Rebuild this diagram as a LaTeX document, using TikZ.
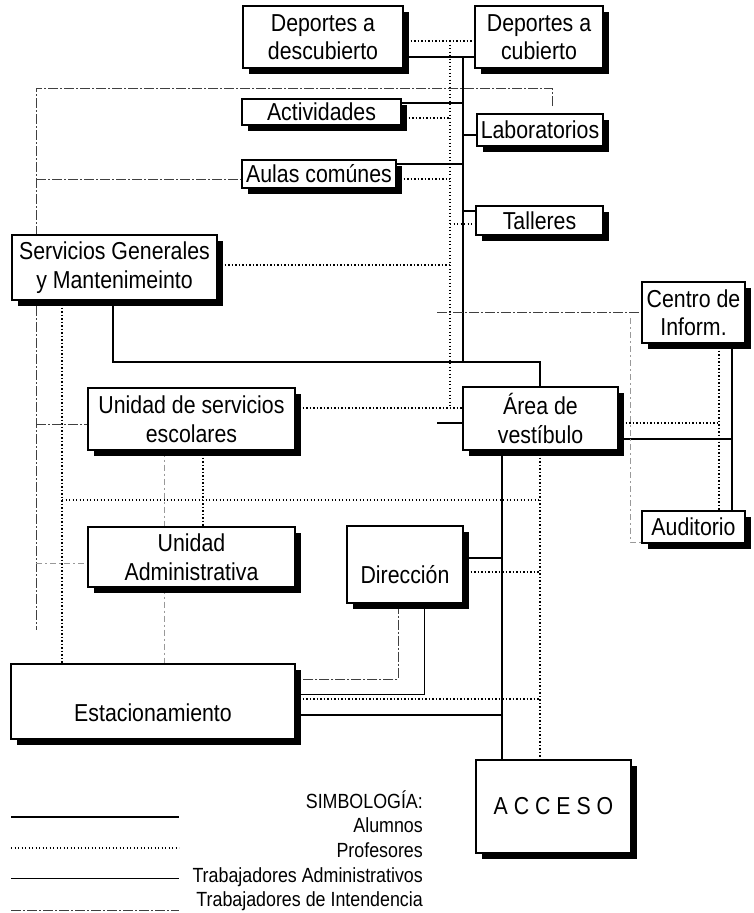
\documentclass[tikz,border=0pt]{standalone}
\usepackage{fontspec}
\setmainfont{Liberation Sans}[FakeStretch=0.87]
\usetikzlibrary{shadows}
\pgfdeclarelayer{bg}
\pgfsetlayers{bg,main}
\begin{document}
\begin{tikzpicture}[x=1pt,y=-1pt,
 box/.style={draw, line width=1.3pt, fill=white, inner sep=0pt, align=center,
   font=\fontsize{24.5}{28.5}\selectfont,
   drop shadow={shadow xshift=6pt, shadow yshift=-6pt, fill=black, opacity=1}},
 alum/.style={line width=1.3pt},
 prof/.style={line width=1.4pt, dash pattern=on 1.4pt off 2.1pt},
 adm/.style={line width=0.9pt},
 int/.style={line width=0.7pt, black!75, dash pattern=on 10pt off 2pt on 2pt off 2pt},
 intf/.style={line width=0.7pt, black!40, dash pattern=on 6pt off 3pt on 2pt off 3pt},
 leg/.style={anchor=base east, inner sep=0pt, font=\fontsize{20.5}{24}\selectfont}]
\useasboundingbox (0,0) rectangle (754,913);

% boxes
\node[box, minimum width=160pt, minimum height=62pt] (dd) at (323,37) {Deportes a\\descubierto};
\node[box, minimum width=128pt, minimum height=62pt] (dc) at (539,37) {Deportes a\\cubierto};
\node[box, minimum width=159pt, minimum height=26pt] (act) at (321.5,112) {Actividades};
\node[box, minimum width=126pt, minimum height=32pt] (lab) at (540,130) {Laboratorios};
\node[box, minimum width=154pt, minimum height=28pt] (aul) at (319,174) {Aulas comúnes};
\node[box, minimum width=127pt, minimum height=29pt] (tal) at (539.5,220.5) {Talleres};
\node[box, minimum width=205pt, minimum height=65pt] (sg) at (114.5,267.5) {Servicios Generales\\y Mantenimeinto};
\node[box, minimum width=103pt, minimum height=61pt] (ci) at (693.5,312.5) {Centro de\\Inform.};
\node[box, minimum width=155pt, minimum height=63pt] (av) at (540.5,418.5) {Área de\\vestíbulo};
\node[box, minimum width=207pt, minimum height=62pt] (us) at (191.5,419) {Unidad de servicios\\escolares};
\node[box, minimum width=207pt, minimum height=60pt] (ua) at (191.5,557) {Unidad\\Administrativa};
\node[box, minimum width=116pt, minimum height=77pt, text height=38pt, text depth=0pt] (dir) at (405,564.5) {Dirección};
\node[box, minimum width=103pt, minimum height=32pt] (aud) at (693.5,527) {Auditorio};
\node[box, minimum width=284pt, minimum height=75pt, text height=39pt, text depth=0pt] (est) at (153,701.5) {Estacionamiento};
\node[box, minimum width=155pt, minimum height=93pt] (acc) at (553.5,806.5) {A C C E S O};

\begin{pgfonlayer}{bg}
% Alumnos
\coordinate (vt) at (463,57);
\coordinate (vb) at (463,362);
\draw[alum] (dd.east |- vt) -- (dc.west |- vt);
\draw[alum] (vt) -- (vb);
\draw[alum] (act.east |- 0,103) -- (vt |- 0,103);
\draw[alum] (vt |- 0,135) -- (lab.west |- 0,135);
\draw[alum] (aul.east |- 0,164) -- (vt |- 0,164);
\draw[alum] (vt |- 0,211) -- (tal.west |- 0,211);
\draw[alum] (sg.south -| 113,0) |- (540,362) -- (av.north -| 540,0);
\draw[alum] (437,423) -- (av.west |- 0,423);
\draw[alum] (av.south -| 502,0) -- (acc.north -| 502,0);
\draw[alum] (av.east |- 0,439) -- (732,439);
\draw[alum] (ci.south -| 732,0) -- (aud.north -| 732,0);
\draw[alum] (dir.east |- 0,558) -- (502,558);
\draw[alum] (est.east |- 0,715) -- (502,715);
% Profesores
\draw[prof] (dd.east |- 0,41) -- (dc.west |- 0,41);
\draw[prof] (450,41) -- (450,408);
\draw[prof] (act.east |- 0,118) -- (450,118);
\draw[prof] (aul.east |- 0,179) -- (450,179);
\draw[prof] (450,224) -- (tal.west |- 0,224);
\draw[prof] (sg.east |- 0,265) -- (450,265);
\draw[prof] (us.east |- 0,408) -- (av.west |- 0,408);
\draw[prof] (sg.south -| 62,0) -- (est.north -| 62,0);
\draw[prof] (62,500) -- (540,500);
\draw[prof] (us.south -| 203,0) -- (ua.north -| 203,0);
\draw[prof] (av.south -| 540,0) -- (acc.north -| 540,0);
\draw[prof] (dir.east |- 0,572) -- (540,572);
\draw[prof] (est.east |- 0,699) -- (540,699);
\draw[prof] (av.east |- 0,423) -- (719,423);
\draw[prof] (ci.south -| 719,0) -- (aud.north -| 719,0);
% Administrativos
\draw[adm] (dir.south -| 424,0) |- (est.east |- 0,694);
% Intendencia
\draw[int] (552,106) -- (552,88) -- (36,88) -- (36,630);
\draw[int] (36,179) -- (aul.west |- 0,179);
\draw[int] (36,424) -- (us.west |- 0,424);
\draw[intf] (36,563) -- (ua.west |- 0,563);
\draw[intf] (us.south -| 164,0) -- (ua.north -| 164,0);
\draw[intf] (ua.south -| 164,0) -- (est.north -| 164,0);
\draw[int] (dir.south -| 398,0) |- (est.east |- 0,679);
\draw[int] (437,312) -- (ci.west |- 0,312);
\draw[intf] (630,318) -- (630,542) -- (aud.west |- 0,542);
\end{pgfonlayer}

% legend
\draw[line width=1.7pt] (11,817) -- (179,817);
\draw[prof] (11,848) -- (179,848);
\draw[adm] (11,878) -- (179,878);
\draw[int] (11,910) -- (179,910);
\node[leg] (ls) at (423,808) {SIMBOLOGÍA:};
\node[leg] (l1) at (423,832) {Alumnos};
\node[leg] (l2) at (423,857) {Profesores};
\node[leg] (l3) at (423,882) {Trabajadores Administrativos};
\node[leg] (l4) at (423,906) {Trabajadores de Intendencia};
\end{tikzpicture}
\end{document}
